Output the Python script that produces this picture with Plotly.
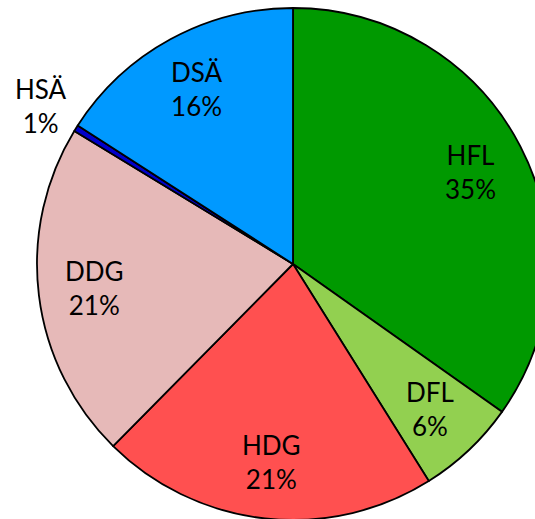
import math
import plotly.graph_objects as go

labels = ["HFL", "DFL", "HDG", "DDG", "HSÄ", "DSÄ"]
values = [34.8, 6.3, 21.3, 21.3, 0.4, 15.9]
pct_labels = ["35%", "6%", "21%", "21%", "1%", "16%"]
colors = ["#009900", "#92D050", "#FF5050", "#E6B9B8", "#0000CC", "#0099FF"]

W, H = 586, 528
PAD = 8
FONT = "Lato, Carlito, Calibri, sans-serif"
FSIZE = 26

fig = go.Figure(go.Pie(
    labels=labels,
    values=values,
    textinfo="none",
    sort=False,
    direction="clockwise",
    rotation=0,
    marker=dict(colors=colors, line=dict(color="black", width=1.8)),
    domain=dict(x=[0, 1], y=[PAD / H, 1 - PAD / H]),
    hoverinfo="label+percent",
    showlegend=False,
))

# Data labels placed along each slice's mid-angle (Excel-style "best fit")
cx, cy = W / 2, H / 2
R = min(W, H - 2 * PAD) / 2
total = sum(values)
cum = 0.0
for lab, val, pct in zip(labels, values, pct_labels):
    mid = (cum + val / 2) / total * 2 * math.pi
    cum += val
    frac = 0.78 if val / total > 0.02 else 1.16
    px = cx + frac * R * math.sin(mid)
    py = cy - frac * R * math.cos(mid)
    fig.add_annotation(
        x=px / W, y=1 - py / H, xref="paper", yref="paper",
        xanchor="center", yanchor="middle",
        text=f"{lab}<br>{pct}", showarrow=False, align="center",
        font=dict(family=FONT, size=FSIZE, color="black"),
    )

fig.update_layout(
    width=W, height=H, autosize=False,
    margin=dict(l=0, r=0, t=0, b=0),
    paper_bgcolor="white", plot_bgcolor="white",
)

fig.write_html(
    "out.html",
    config={"displayModeBar": False},
    post_script="document.body.style.margin='0';document.body.style.overflow='hidden';document.documentElement.style.overflow='hidden';",
)
